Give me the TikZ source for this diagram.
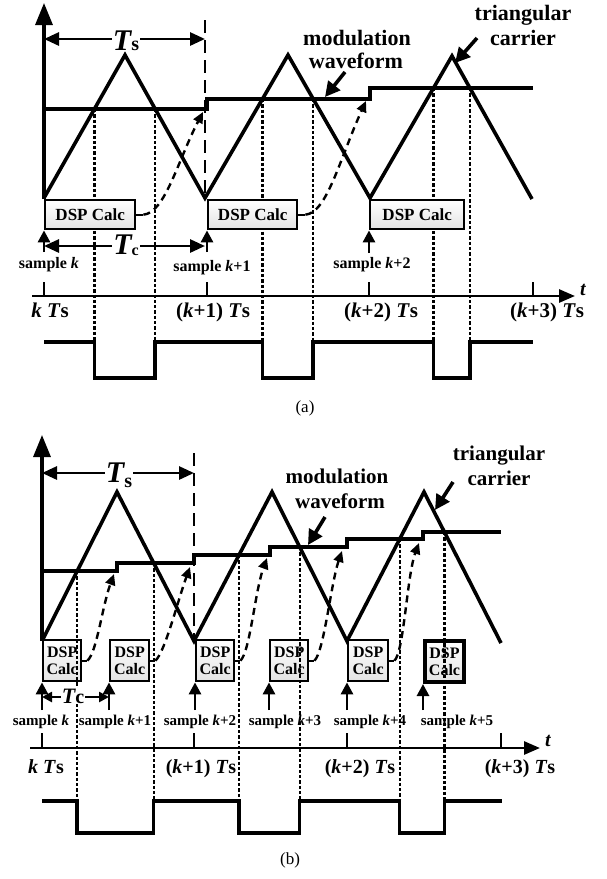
\documentclass[tikz,border=0pt]{standalone}
\usepackage{fontspec}
\setmainfont{Liberation Serif}
\usetikzlibrary{arrows.meta}
\newcommand\myfs[1]{\fontsize{#1}{#1}\selectfont}
\begin{document}
\begin{tikzpicture}[x=1pt,y=-1pt,
  wave/.style={line width=3.6pt, line join=miter},
  pwm/.style={line width=3.5pt, line join=miter},
  axisv/.style={line width=3.2pt, -{Triangle[length=22pt,width=17pt]}},
  taxis/.style={line width=2.8pt, -{Triangle[length=16pt,width=13pt]}},
  tickm/.style={line width=2.8pt},
  dotl/.style={line width=2.4pt, dash pattern=on 3.3pt off 2pt},
  vdash/.style={line width=2.4pt, dash pattern=on 13pt off 7pt},
  dspa/.style={draw, line width=2.4pt, top color=white, bottom color=gray!22, anchor=north west, inner sep=0pt, font=\myfs{17}\bfseries},
  dspb/.style={dspa, font=\fontsize{16}{17}\selectfont\bfseries, align=center, minimum height=41pt},
  curvarr/.style={line width=2.4pt, dash pattern=on 7pt off 5pt, -{Triangle[length=11pt,width=10pt]}},
  stub/.style={line width=2.4pt},
  samparr/.style={line width=2.8pt, -{Triangle[length=12pt,width=12pt]}},
  dimarr/.style={line width=2.8pt, {Triangle[length=15pt,width=13pt]}-{Triangle[length=15pt,width=13pt]}},
  dimb/.style={line width=2.6pt, {Triangle[length=10pt,width=10pt]}-{Triangle[length=10pt,width=10pt]}},
  lblarr/.style={line width=3.6pt, -{Triangle[length=15pt,width=15pt]}},
  lbla/.style={font=\myfs{22}\bfseries, anchor=base},
  lblb/.style={font=\myfs{21}\bfseries, anchor=base},
  sampa/.style={font=\myfs{16}\bfseries, anchor=base},
  sampb/.style={font=\myfs{15}\bfseries, anchor=base},
  axla/.style={font=\myfs{21}\bfseries, anchor=base},
  axlb/.style={font=\myfs{20}\bfseries, anchor=base},
  tlbl/.style={font=\myfs{20}\bfseries\itshape, anchor=base},
  cover/.style={fill=white, inner xsep=1pt, inner ysep=1pt, anchor=base}
]
\useasboundingbox (0,0) rectangle (607,879);

% ================= (a) =================
\draw[vdash] (205,20) -- (205,198);
\foreach \x/\y in {94.4/109,155.2/109,262.5/99,313.2/99,433.5/88,469.9/88}
  \draw[dotl] (\x,\y) -- (\x,342);
\draw[pwm] (44,342) -- (94.4,342) -- (94.4,378) -- (155.2,378) -- (155.2,342)
  -- (262.5,342) -- (262.5,378) -- (313.2,378) -- (313.2,342) -- (433.5,342)
  -- (433.5,378) -- (469.9,378) -- (469.9,342) -- (533,342);
\draw[wave] (44,198) -- (125,55) -- (205,198) -- (288,55) -- (370,198) -- (452,56) -- (532,199);
\draw[wave] (44,109) -- (207,109) -- (207,99) -- (370,99) -- (370,88) -- (533,88);
\draw[axisv] (44,199) -- (44,3);

\node[dspa, minimum width=90pt, minimum height=29pt] (A1) at (44,199) {DSP Calc};
\node[dspa, minimum width=89pt, minimum height=29pt] (A2) at (207,199) {DSP Calc};
\node[dspa, minimum width=94pt, minimum height=29pt] (A3) at (369,199) {DSP Calc};

\draw[stub] (A1.east) -- ++(7,0) coordinate (A1s);
\draw[curvarr] (A1s) .. controls (165,213) and (178,160) .. (203,112);
\draw[stub] (A2.east) -- ++(7,0) coordinate (A2s);
\draw[curvarr] (A2s) .. controls (327,213) and (340,158) .. (366,101);

\draw[samparr] (44,252) -- (A1.south west);
\draw[samparr] (207,252) -- (A2.south west);
\draw[samparr] (369,253) -- (A3.south west);

\draw[dimarr] (44,39) -- (205,39);
\node[cover] (TsA) at (126,50) {\myfs{30}\bfseries\itshape T{\myfs{20}\upshape s}};
\draw[dimarr] (44,246) -- (205,246);
\node[cover] (TcA) at (126,254) {\myfs{30}\bfseries\itshape T\raisebox{-1pt}{\myfs{16}\upshape c}};

\draw[taxis] (32,296) -- (575,296);
\foreach \x in {44,207,369,533} \draw[tickm] (\x,282) -- (\x,296);
\node[tlbl] (tA) at (583,295) {t};

\node[sampa] (sA1) at (49,268) {sample \textit{k}};
\node[sampa] (sA2) at (212,271) {sample \textit{k}+1};
\node[sampa] (sA3) at (372,268) {sample \textit{k}+2};

\node[axla] (xA0) at (50,317) {\textit{k} \textit{T}s};
\node[axla] (xA1) at (213,317) {(\textit{k}+1) \textit{T}s};
\node[axla] (xA2) at (381,317) {(\textit{k}+2) \textit{T}s};
\node[axla] (xA3) at (547,317) {(\textit{k}+3) \textit{T}s};

\node[lbla] (modA1) at (357,45) {modulation};
\node[lbla] (modA2) at (356,68) {waveform};
\coordinate (modAa) at (345,72);
\coordinate (modAt) at (325,97);
\draw[lblarr] (modAa) -- (modAt);
\node[lbla] (triA1) at (523,20) {triangular};
\node[lbla] (triA2) at (523,45) {carrier};
\coordinate (triAa) at (477,38);
\coordinate (triAt) at (455,63);
\draw[lblarr] (triAa) -- (triAt);

\node[font=\myfs{17}] (capA) at (305,408) {(a)};

% ================= (b) =================
\node[dspb, minimum width=38pt] (B1) at (42,639) {DSP\\Calc};
\node[dspb, minimum width=39pt] (B2) at (109,639) {DSP\\Calc};
\node[dspb, minimum width=38pt] (B3) at (195,639) {DSP\\Calc};
\node[dspb, minimum width=38pt] (B4) at (269,639) {DSP\\Calc};
\node[dspb, minimum width=40pt] (B5) at (347,639) {DSP\\Calc};
\node[dspb, minimum width=39pt, line width=4pt] (B6) at (423,639) {DSP\\Calc};

\draw[vdash] (194,453) -- (194,641);
\foreach \x/\y in {77.2/571,153.7/563,239/555,299.7/547,399.7/539,444.4/532}
  \draw[dotl] (\x,\y) -- (\x,801);
\draw[pwm] (42,801) -- (77.2,801) -- (77.2,833) -- (153.7,833) -- (153.7,801)
  -- (239,801) -- (239,833) -- (299.7,833) -- (299.7,801) -- (399.7,801)
  -- (399.7,833) -- (444.4,833) -- (444.4,801) -- (502,801);
\draw[wave] (42,641) -- (117,492) -- (194,641) -- (272,492) -- (347,641) -- (424,492) -- (501,643);
\draw[wave] (42,571) -- (117,571) -- (117,563) -- (194,563) -- (194,555) -- (270,555)
  -- (270,547) -- (347,547) -- (347,539) -- (423,539) -- (423,532) -- (501,532);
\draw[axisv] (42,641) -- (42,435);

\draw[stub] (B1.east) -- ++(5,0) coordinate (B1s);
\draw[curvarr] (B1s) .. controls (97,652) and (102,607) .. (114,574);
\draw[stub] (B2.east) -- ++(5,0) coordinate (B2s);
\draw[curvarr] (B2s) .. controls (165,652) and (178,600) .. (190,567);
\draw[stub] (B3.east) -- ++(5,0) coordinate (B3s);
\draw[curvarr] (B3s) .. controls (250,652) and (255,591) .. (267,558);
\draw[stub] (B4.east) -- ++(5,0) coordinate (B4s);
\draw[curvarr] (B4s) .. controls (324,652) and (331,583) .. (342,551);
\draw[stub] (B5.east) -- ++(5,0) coordinate (B5s);
\draw[curvarr] (B5s) .. controls (404,652) and (407,575) .. (419,543);

\draw[samparr] (42,710) -- (B1.south west);
\draw[samparr] (109,710) -- (B2.south west);
\draw[samparr] (195,710) -- (B3.south west);
\draw[samparr] (269,710) -- (B4.south west);
\draw[samparr] (347,710) -- (B5.south west);
\draw[samparr] (423,710) -- (B6.south west);

\draw[dimarr] (42,473) -- (194,473);
\node[cover] (TsB) at (119,482) {\myfs{30}\bfseries\itshape T\raisebox{-5pt}{\myfs{20}\upshape s}};
\draw[dimb] (42,697) -- (109,697);
\node[cover, inner xsep=0.5pt] (TcB) at (73,703) {\myfs{22}\bfseries\itshape T{\myfs{20}\upshape c}};

\draw[taxis] (30,748) -- (540,748);
\foreach \x in {42,194,347,501} \draw[tickm] (\x,733) -- (\x,748);
\node[tlbl] (tB) at (548,746) {t};

\node[sampb] (sB1) at (41,725) {sample \textit{k}};
\node[sampb] (sB2) at (115,725) {sample \textit{k}+1};
\node[sampb] (sB3) at (200,725) {sample \textit{k}+2};
\node[sampb] (sB4) at (285,725) {sample \textit{k}+3};
\node[sampb] (sB5) at (370,725) {sample \textit{k}+4};
\node[sampb] (sB6) at (457,725) {sample \textit{k}+5};

\node[axlb] (xB0) at (46,773) {\textit{k} \textit{T}s};
\node[axlb] (xB1) at (201,773) {(\textit{k}+1) \textit{T}s};
\node[axlb] (xB2) at (360,773) {(\textit{k}+2) \textit{T}s};
\node[axlb] (xB3) at (520,773) {(\textit{k}+3) \textit{T}s};

\node[lblb] (modB1) at (337,483) {modulation};
\node[lblb] (modB2) at (340,508) {waveform};
\coordinate (modBa) at (325,517);
\coordinate (modBt) at (308,545);
\draw[lblarr] (modBa) -- (modBt);
\node[lblb] (triB1) at (499,460) {triangular};
\node[lblb] (triB2) at (499,485) {carrier};
\coordinate (triBa) at (453,482);
\coordinate (triBt) at (435,510);
\draw[lblarr] (triBa) -- (triBt);

\node[font=\myfs{17}] (capB) at (290,860) {(b)};
\end{tikzpicture}
\end{document}
